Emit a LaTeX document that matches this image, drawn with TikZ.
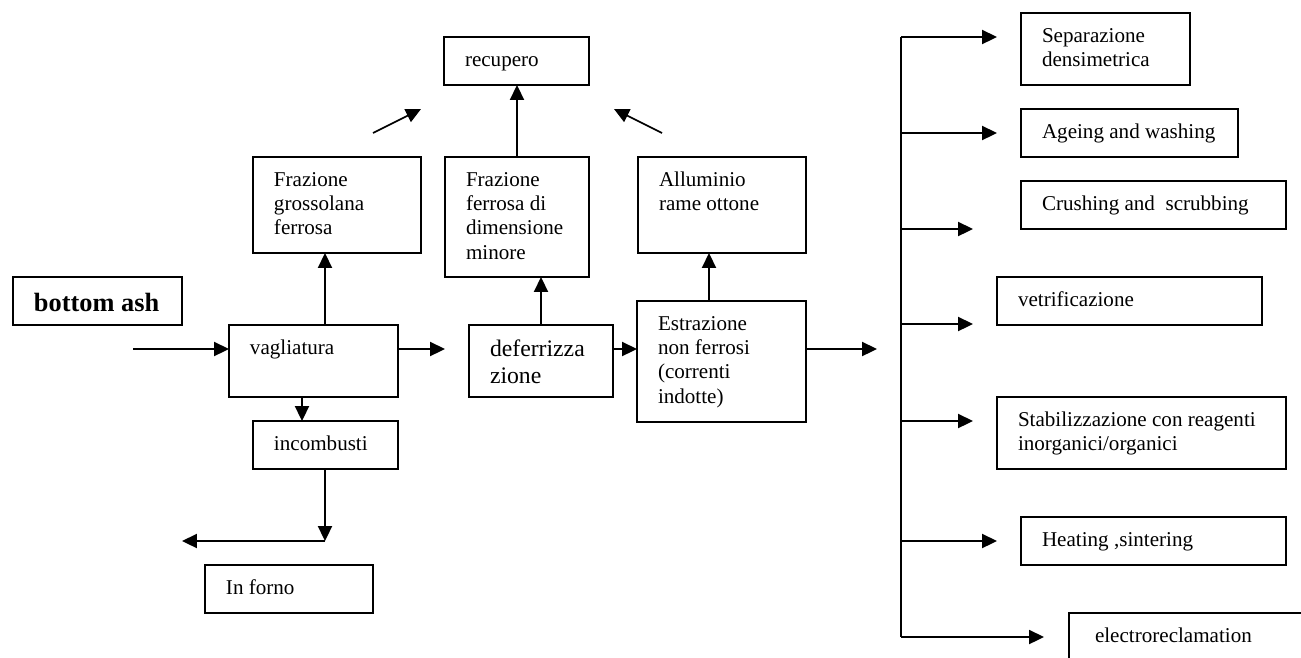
\documentclass[tikz,border=0pt]{standalone}
\usepackage{fontspec}
\setmainfont{Liberation Serif}
\usepackage{tikz}
\usetikzlibrary{arrows.meta}

% one pixel of the sheet
\newlength\px
\setlength\px{0.02cm}
% text set at the top left of a box
\newcommand{\boxtxt}[4][]{%
	\begin{minipage}[c][#3\px][t]{\dimexpr#2\px-42\px\relax}#1\raggedright
	\vspace*{7pt}\strut#4\end{minipage}}

\tikzset{
	panel/.style={draw, line width=1pt, anchor=north west, inner xsep=0.42cm, inner ysep=0pt, outer sep=0pt, font=\fontsize{12}{13.8}\selectfont},
	arr/.style={line width=1pt, -{Triangle[length=8.5pt,width=8pt]}},
}

\begin{document}
\begin{tikzpicture}[x=0.02cm, y=-0.02cm]
	\useasboundingbox (0,0) rectangle (1301,657);
	\clip (0,0) rectangle (1301,657);
	
	%main line
	\node[panel] (ash) at (13,277) {\boxtxt[\bfseries\fontsize{15}{18}\selectfont]{169}{48}{bottom ash}};
	\node[panel] (vag) at (229,325) {\boxtxt{169}{72}{vagliatura}};
	\node[panel] (def) at (469,325) {\boxtxt[\fontsize{13.5}{15.5}\selectfont]{144}{72}{deferrizza\\zione}};
	\node[panel] (estr) at (637,301) {\boxtxt{169}{121}{Estrazione\\non ferrosi\\(correnti\\indotte)}};
	
	%fractions
	\node[panel] (fgross) at (253,157) {\boxtxt{168}{96}{Frazione\\grossolana\\ferrosa}};
	\node[panel] (fferr) at (445,157) {\boxtxt{144}{120}{Frazione\\ferrosa di\\dimensione\\minore}};
	\node[panel] (allum) at (638,157) {\boxtxt{168}{96}{Alluminio\\rame ottone}};
	\node[panel] (rec) at (444,37) {\boxtxt{145}{48}{recupero}};
	
	%unburnt
	\node[panel] (inc) at (253,421) {\boxtxt{145}{48}{incombusti}};
	\node[panel] (forno) at (205,565) {\boxtxt{168}{48}{In forno}};
	
	%treatments
	\node[panel] (sep) at (1021,13) {\boxtxt{169}{72}{Separazione\\densimetrica}};
	\node[panel] (age) at (1021,109) {\boxtxt{217}{48}{Ageing and washing}};
	\node[panel] (crush) at (1021,181) {\boxtxt{265}{48}{Crushing and~ scrubbing}};
	\node[panel] (vetr) at (997,277) {\boxtxt{265}{48}{vetrificazione}};
	\node[panel] (stab) at (997,397) {\boxtxt{289}{72}{Stabilizzazione con reagenti\\inorganici/organici}};
	\node[panel] (heat) at (1021,517) {\boxtxt{265}{48}{Heating ,sintering}};
	\node[panel] (elec) at (1069,613) {\boxtxt{260}{80}{\hspace*{5\px}electroreclamation}};
	
	% Connect main line
	\coordinate (in0) at (133,349);
	\coordinate (out1) at (445,349);
	\coordinate (out2) at (877,349);
	\draw[arr] (in0) -- (in0 -| vag.west);
	\draw[arr] (out1 -| vag.east) -- (out1);
	\draw[arr] (out1 -| def.east) -- (out1 -| estr.west);
	\draw[arr] (out2 -| estr.east) -- (out2);
	
	% Connect fractions
	\coordinate (c1) at (325,0);
	\coordinate (c3) at (541,0);
	\coordinate (c4) at (709,0);
	\coordinate (c5) at (517,0);
	\draw[arr] (vag.north -| c1) -- (fgross.south -| c1);
	\draw[arr] (def.north -| c3) -- (fferr.south -| c3);
	\draw[arr] (estr.north -| c4) -- (allum.south -| c4);
	\draw[arr] (fferr.north -| c5) -- (rec.south -| c5);
	\coordinate (dl0) at (373,133);
	\coordinate (dl1) at (421,109);
	\coordinate (dr0) at (662,133);
	\coordinate (dr1) at (614,109);
	\draw[arr] (dl0) -- (dl1);
	\draw[arr] (dr0) -- (dr1);
	
	% Connect unburnt
	\coordinate (c2) at (302,0);
	\coordinate (knee) at (325,541);
	\coordinate (kout) at (182,541);
	\draw[arr] (vag.south -| c2) -- (inc.north -| c2);
	\draw[arr] (inc.south -| knee) -- (knee);
	\draw[arr] (knee) -- (kout);
	
	%bus to treatments
	\foreach \yy/\xx [count=\i] in {37/997,133/997,229/973,324/973,421/973,541/997,637/1044} {
		\coordinate (b\i) at (901,\yy);
		\draw[arr] (b\i) -- (\xx,\yy);
	}
	\draw[line width=1pt] (b1) -- (b7);
	
\end{tikzpicture}
\end{document}
